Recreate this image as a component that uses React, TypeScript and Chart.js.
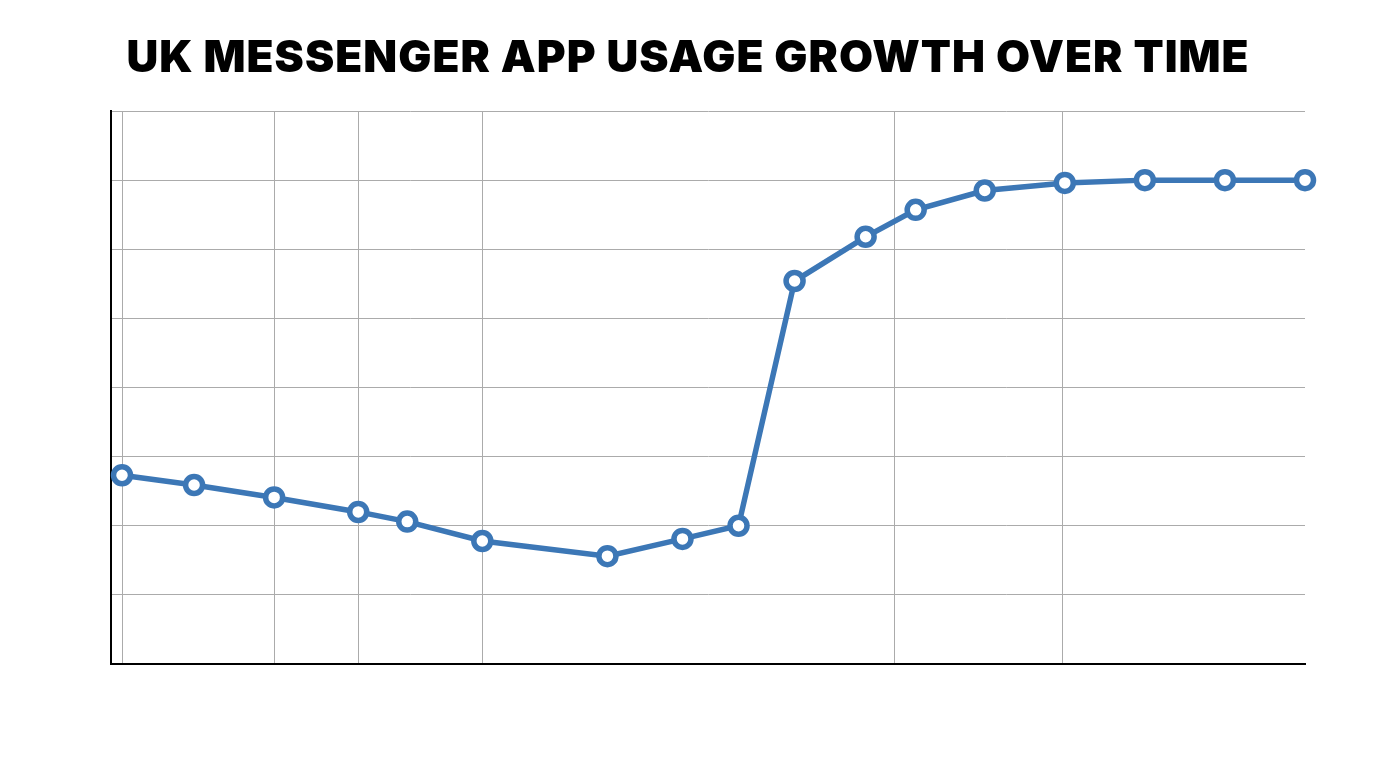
import React, { useEffect, useRef } from "react";
import { Chart, registerables } from "chart.js";

Chart.register(...registerables);

// Time position (arbitrary units along the time axis) and usage share (%)
const timePoints = [1.1, 8.3, 16.3, 24.7, 29.6, 37.1, 49.6, 57.1, 62.7, 68.3, 75.4, 80.4, 87.3, 95.3, 103.3, 111.3, 119.3];
const usageValues = [27.3, 25.9, 24.1, 22.0, 20.6, 17.8, 15.6, 18.1, 20.0, 55.4, 61.8, 65.7, 68.5, 69.6, 70, 70, 70];
// Positions of the vertical grid lines along the time axis
const timeGridTicks = [1.1, 16.3, 24.7, 37.1, 78.3, 95.1];
const X_MIN = 0;
const X_MAX = 119.3;
const Y_MIN = 0;
const Y_MAX = 80;
const Y_STEP = 10;

const TITLE = "UK MESSENGER APP USAGE GROWTH OVER TIME";
const BLUE = "#3c77b6";

export default function App() {
  const canvasRef = useRef<HTMLCanvasElement | null>(null);

  useEffect(() => {
    document.body.style.margin = "0";
    const canvas = canvasRef.current;
    if (!canvas) return;
    const chart = new Chart(canvas, {
      type: "line",
      data: {
        datasets: [
          {
            label: "Usage",
            data: timePoints.map((x, i) => ({ x, y: usageValues[i] })),
            borderColor: BLUE,
            borderWidth: 5.5,
            pointRadius: 8.5,
            pointHoverRadius: 8.5,
            pointBorderWidth: 5.5,
            pointBackgroundColor: "#ffffff",
            pointBorderColor: BLUE,
            tension: 0,
            clip: false as any,
          },
        ],
      },
      options: {
        responsive: false,
        animation: false,
        events: [],
        layout: {
          padding: { left: 111, right: 71, top: 111, bottom: 104 },
        },
        plugins: {
          legend: { display: false },
          title: { display: false },
          tooltip: { enabled: false },
        },
        scales: {
          x: {
            type: "linear",
            min: X_MIN,
            max: X_MAX,
            afterBuildTicks: (axis: any) => {
              axis.ticks = timeGridTicks.map((v) => ({ value: v }));
            },
            ticks: { display: false },
            grid: { color: "#ababab", lineWidth: 1, drawTicks: false },
            border: { display: true, color: "#000000", width: 2 },
          },
          y: {
            min: Y_MIN,
            max: Y_MAX,
            ticks: { display: false, stepSize: Y_STEP },
            grid: { color: "#ababab", lineWidth: 1, drawTicks: false },
            border: { display: true, color: "#000000", width: 2 },
          },
        },
      },
    });
    return () => chart.destroy();
  }, []);

  return (
    <div style={{ position: "fixed", left: 0, top: 0, width: 1376, height: 768, background: "#fff" }}>
      <div
        style={{
          position: "absolute",
          left: 0,
          width: 1376,
          top: 28,
          textAlign: "center",
          fontFamily: "Inter, 'Open Sans', sans-serif",
          fontWeight: 900,
          fontSize: 44,
          lineHeight: "56px",
          color: "#000",
          letterSpacing: 1.05,
        }}
      >
        {TITLE}
      </div>
      <canvas ref={canvasRef} width={1376} height={768} style={{ display: "block" }} />
    </div>
  );
}
